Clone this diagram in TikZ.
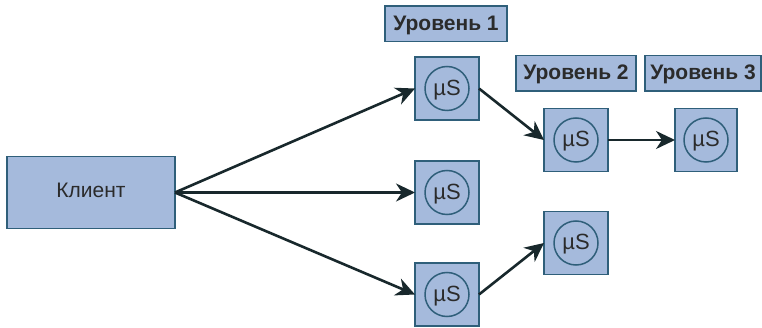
\documentclass[tikz,border=0pt]{standalone}
\usepackage{fontspec}
\setmainfont{Liberation Sans}
\usetikzlibrary{arrows.meta}
\definecolor{boxfill}{HTML}{A5BADC}
\definecolor{boxline}{HTML}{2F5F7A}
\definecolor{inkc}{HTML}{2B2B2B}
\definecolor{arrowc}{HTML}{18282C}
\tikzset{
  base/.style={draw=boxline,fill=boxfill,line width=1.5pt,inner sep=0pt,outer sep=0pt,text=inkc,anchor=center},
  client/.style={base,minimum width=168pt,minimum height=72pt,text height=11pt,text depth=0pt,font=\fontsize{21}{25}\selectfont},
  level/.style={base,minimum height=35.5pt,text height=13pt,text depth=0pt,font=\fontsize{21}{25}\selectfont\bfseries},
  svc/.style={base,minimum width=64pt,minimum height=63pt},
  ring/.style={circle,draw=boxline,line width=1.5pt,minimum size=44pt,inner sep=0pt,text=inkc,text height=13.8pt,text depth=0pt,font=\fontsize{22}{26}\selectfont},
  conn/.style={draw=arrowc,line width=2.6pt,-{Stealth[length=19pt,width=18pt,inset=6pt]}}
}
\begin{document}
\begin{tikzpicture}[x=1pt,y=-1pt]
\useasboundingbox[fill=white] (0,0) rectangle (762,328);
\node[client] (c) at (91,192.5) {Клиент};
\node[level,minimum width=122pt] (l1) at (446,24) {Уровень 1};
\node[level,minimum width=120pt] (l2) at (576,73.5) {Уровень 2};
\node[level,minimum width=116pt] (l3) at (703,73.5) {Уровень 3};
\node[svc] (a) at (447,88.5) {};
\node[ring] (ra) at (a.center) {µS};
\node[svc] (b) at (447,192.5) {};
\node[ring] (rb) at (b.center) {µS};
\node[svc] (d) at (447,294.5) {};
\node[ring] (rd) at (d.center) {µS};
\node[svc] (e) at (576,140) {};
\node[ring] (re) at (e.center) {µS};
\node[svc] (f) at (576,243) {};
\node[ring] (rf) at (f.center) {µS};
\node[svc,minimum width=62pt] (g) at (706,140) {};
\node[ring] (rg) at (g.center) {µS};
\draw[conn] (c.east) -- (a.west);
\draw[conn] (c.east) -- (b.west);
\draw[conn] (c.east) -- (d.west);
\draw[conn] (a.east) -- (e.west);
\draw[conn] (e.east) -- (g.west);
\draw[conn] (d.east) -- (f.west);
\end{tikzpicture}
\end{document}
